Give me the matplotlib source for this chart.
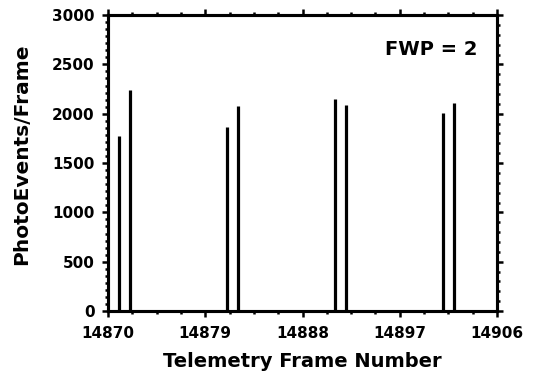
#!/usr/bin/env python3
"""Photo events per telemetry frame, FWP = 2."""
import matplotlib
matplotlib.use('Agg')
import matplotlib.pyplot as plt
from matplotlib.ticker import MultipleLocator, AutoMinorLocator, NullFormatter

frames = [14871, 14872, 14881, 14882, 14891, 14892, 14901, 14902]
events = [1770, 2240, 1870, 2080, 2150, 2090, 2010, 2110]
x_ticks = [14870, 14879, 14888, 14897, 14906]
y_ticks = [0, 500, 1000, 1500, 2000, 2500, 3000]

plt.rcParams['font.family'] = 'DejaVu Sans'
plt.rcParams['font.weight'] = 'bold'

fig = plt.figure(figsize=(5.33, 3.77), dpi=100)
ax = fig.add_axes([0.2026, 0.175, 0.73, 0.785])

ax.vlines(frames, 0, events, colors='black', linewidth=2.3)

ax.set_xlim(x_ticks[0], x_ticks[-1])
ax.set_ylim(0, 3000)
ax.set_xticks(x_ticks)
ax.set_yticks(y_ticks)
ax.xaxis.set_minor_locator(AutoMinorLocator(4))
ax.yaxis.set_minor_locator(AutoMinorLocator(7))

for s in ax.spines.values():
    s.set_linewidth(2.2)

ax.tick_params(axis='x', which='both', top=True, bottom=True, direction='out',
               labelsize=11, pad=6)
ax.tick_params(axis='y', which='both', left=True, right=False, direction='out',
               labelsize=11, pad=5)
ax.tick_params(which='major', length=4.5, width=1.8)
ax.tick_params(which='minor', length=2.5, width=1.8)

# right-hand scale ticks every 100
rax = ax.twinx()
rax.set_ylim(0, 3000)
rax.yaxis.set_major_locator(MultipleLocator(500))
rax.yaxis.set_minor_locator(MultipleLocator(100))
rax.yaxis.set_major_formatter(NullFormatter())
rax.tick_params(which='major', direction='out', length=4.5, width=1.8)
rax.tick_params(which='minor', direction='out', length=2.5, width=1.8)
for s in rax.spines.values():
    s.set_linewidth(2.2)

ax.set_xlabel('Telemetry Frame Number', fontsize=14, fontweight='bold', labelpad=8)
ax.set_ylabel('PhotoEvents/Frame', fontsize=14.5, fontweight='bold', labelpad=15)
ax.yaxis.label.set_y(0.53)
ax.text(0.95, 0.885, 'FWP = 2', transform=ax.transAxes, ha='right', va='center',
        fontsize=14, fontweight='bold')

fig.savefig('out.png', dpi=100)
